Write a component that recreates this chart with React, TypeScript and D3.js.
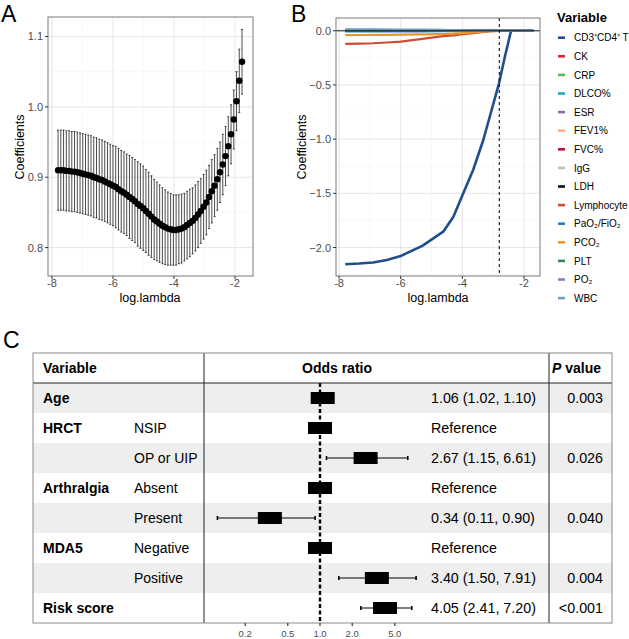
import React from "react";
import * as d3 from "d3";

// ---- panel A: cross-validation curve ----
const lambdaA = [
  -7.8, -7.71, -7.62, -7.53, -7.44, -7.35, -7.26, -7.17, -7.08, -6.99,
  -6.9, -6.81, -6.72, -6.63, -6.54, -6.45, -6.36, -6.27, -6.18, -6.09,
  -6.0, -5.91, -5.82, -5.73, -5.64, -5.55, -5.46, -5.37, -5.28, -5.19,
  -5.1, -5.01, -4.92, -4.83, -4.74, -4.65, -4.56, -4.47, -4.38, -4.29,
  -4.2, -4.11, -4.02, -3.93, -3.84, -3.75, -3.66, -3.57, -3.48, -3.39,
  -3.3, -3.21, -3.12, -3.03, -2.94, -2.85, -2.76, -2.67, -2.58, -2.49,
  -2.4, -2.31, -2.22, -2.13, -2.04, -1.95, -1.86, -1.77,
];
const cvMean = [
  0.91, 0.91, 0.91, 0.909, 0.909, 0.908, 0.908, 0.907, 0.906, 0.905,
  0.904, 0.903, 0.902, 0.9, 0.899, 0.897, 0.896, 0.894, 0.892, 0.89,
  0.888, 0.886, 0.883, 0.88, 0.878, 0.875, 0.872, 0.869, 0.866, 0.862,
  0.859, 0.856, 0.852, 0.848, 0.844, 0.84, 0.837, 0.834, 0.831, 0.829,
  0.827, 0.826, 0.825, 0.825, 0.826, 0.827, 0.829, 0.832, 0.835, 0.838,
  0.842, 0.847, 0.852, 0.858, 0.864, 0.872, 0.88, 0.888, 0.897, 0.907,
  0.918, 0.93, 0.944, 0.961, 0.982, 1.008, 1.037, 1.064,
];
const cvSe = [
  0.057, 0.057, 0.057, 0.057, 0.057, 0.057, 0.057, 0.057, 0.057, 0.057,
  0.057, 0.057, 0.057, 0.057, 0.057, 0.057, 0.057, 0.057, 0.057, 0.057,
  0.057, 0.058, 0.058, 0.058, 0.058, 0.058, 0.059, 0.059, 0.059, 0.06,
  0.06, 0.06, 0.059, 0.059, 0.058, 0.057, 0.056, 0.055, 0.054, 0.053,
  0.052, 0.051, 0.05, 0.05, 0.049, 0.049, 0.048, 0.048, 0.048, 0.047,
  0.047, 0.047, 0.046, 0.046, 0.046, 0.045, 0.045, 0.044, 0.044, 0.043,
  0.043, 0.042, 0.042, 0.042, 0.042, 0.042, 0.045, 0.046,
];
const lambdaTicks = [-8, -6, -4, -2];
const lambdaMinor = [-7, -5, -3];
const yTicksA = [0.8, 0.9, 1.0, 1.1];
const yMinorA = [0.85, 0.95, 1.05];

// ---- panel B: coefficient paths ----
const lambdaB = [-7.8, -7.35, -6.9, -6.45, -6.0, -5.3, -4.62, -4.29, -3.97, -3.65, -3.32, -3.05, -2.81, -2.62, -2.42, -2.2, -1.9, -1.7];
const coefCD3 = [-2.154, -2.148, -2.139, -2.115, -2.078, -1.985, -1.854, -1.716, -1.5, -1.285, -1.008, -0.731, -0.485, -0.239, 0, 0, 0, 0];
const coefZero = [0, 0, 0, 0, 0, 0, 0, 0, 0, 0, 0, 0, 0, 0, 0, 0, 0, 0];
const coefLymph = [-0.12, -0.118, -0.115, -0.108, -0.1, -0.075, -0.05, -0.042, -0.032, -0.022, -0.01, -0.003, 0, 0, 0, 0, 0, 0];
const coefPaO2 = [-0.006, -0.006, -0.006, -0.005, -0.005, -0.005, -0.004, -0.004, -0.003, -0.002, -0.002, -0.002, -0.002, -0.002, -0.001, -0.001, 0, 0];
const coefPCO2 = [-0.04, -0.039, -0.038, -0.037, -0.036, -0.033, -0.03, -0.027, -0.022, -0.016, -0.008, -0.003, 0, 0, 0, 0, 0, 0];
const coefPLT = [0, 0, 0, 0, 0, 0, 0.003, 0.003, 0.002, 0.002, 0.002, 0.001, 0.001, 0, 0, 0, 0, 0];
const coefPO2 = [0.008, 0.008, 0.008, 0.008, 0.007, 0.006, 0.004, 0.002, 0, 0, 0, 0, 0, 0, 0, 0, 0, 0];
const coefIgG = [0.005, 0.005, 0.005, 0.005, 0.005, 0.004, 0.003, 0.001, 0, 0, 0, 0, 0, 0, 0, 0, 0, 0];
const coefWBC = [0.013, 0.013, 0.013, 0.012, 0.012, 0.011, 0.008, 0.004, 0.001, 0, 0, 0, 0, 0, 0, 0, 0, 0];

const variableNames = [
  "CD3⁺CD4⁺ T", "CK", "CRP", "DLCO%", "ESR", "FEV1%", "FVC%", "IgG",
  "LDH", "Lymphocyte", "PaO₂/FiO₂", "PCO₂", "PLT", "PO₂", "WBC",
];
const variableColors = [
  "#1f4e8c", "#e3262a", "#5cb85c", "#21a9b8", "#8c6bb1", "#f7b38e", "#b0173f", "#bdbdbd",
  "#111111", "#cf4b32", "#2d7fc1", "#e8962e", "#2e8b57", "#8a7fbf", "#6f9fbd",
];
const variablePaths = [
  coefCD3, coefZero, coefZero, coefZero, coefZero, coefZero, coefZero, coefIgG,
  coefZero, coefLymph, coefPaO2, coefPCO2, coefPLT, coefPO2, coefWBC,
];
const yTicksB = [0, -0.5, -1.0, -1.5, -2.0];
const yMinorB = [-0.25, -0.75, -1.25, -1.75, -2.25];
const cutoffLambda = -2.8;

// ---- panel C: forest table ----
const forestVars = ["Age", "HRCT", "", "Arthralgia", "", "MDA5", "", "Risk score"];
const forestLevels = ["", "NSIP", "OP or UIP", "Absent", "Present", "Negative", "Positive", ""];
const orEst = [1.06, 1, 2.67, 1, 0.34, 1, 3.4, 4.05];
const orLow = [1.02, null, 1.15, null, 0.11, null, 1.5, 2.41];
const orHigh = [1.1, null, 6.61, null, 0.9, null, 7.91, 7.2];
const orText = [
  "1.06 (1.02, 1.10)", "Reference", "2.67 (1.15, 6.61)", "Reference",
  "0.34 (0.11, 0.90)", "Reference", "3.40 (1.50, 7.91)", "4.05 (2.41, 7.20)",
];
const pText = ["0.003", "", "0.026", "", "0.040", "", "0.004", "<0.001"];
const orTicks = [0.2, 0.5, 1, 2, 5];

const FONT = "Liberation Sans, Arial, sans-serif";
const GRID = "#e6e6e6";
const GRID_MINOR = "#f3f3f3";
const BORDER = "#7a7a7a";
const TICK_TEXT = "#4d4d4d";

const fmt1 = d3.format(".1f");

function PanelA() {
  const x = d3.scaleLinear().domain([-8.13, -1.41]).range([48, 253]);
  const y = d3.scaleLinear().domain([0.7596, 1.1277]).range([276, 17]);
  return (
    <g>
      <text x={1} y={22} fontSize={23} fontFamily={FONT}>A</text>
      {lambdaMinor.map((t) => (
        <line key={"xm" + t} x1={x(t)} x2={x(t)} y1={17} y2={276} stroke={GRID_MINOR} strokeWidth={0.6} />
      ))}
      {yMinorA.map((t) => (
        <line key={"ym" + t} x1={48} x2={253} y1={y(t)} y2={y(t)} stroke={GRID_MINOR} strokeWidth={0.6} />
      ))}
      {lambdaTicks.map((t) => (
        <line key={"x" + t} x1={x(t)} x2={x(t)} y1={17} y2={276} stroke={GRID} strokeWidth={1} />
      ))}
      {yTicksA.map((t) => (
        <line key={"y" + t} x1={48} x2={253} y1={y(t)} y2={y(t)} stroke={GRID} strokeWidth={1} />
      ))}
      {lambdaA.map((l, i) => (
        <g key={"e" + i}>
          <line x1={x(l)} x2={x(l)} y1={y(cvMean[i] - cvSe[i])} y2={y(cvMean[i] + cvSe[i])} stroke="#000" strokeWidth={0.7} />
          <line x1={x(l) - 1} x2={x(l) + 1} y1={y(cvMean[i] - cvSe[i])} y2={y(cvMean[i] - cvSe[i])} stroke="#000" strokeWidth={0.7} />
          <line x1={x(l) - 1} x2={x(l) + 1} y1={y(cvMean[i] + cvSe[i])} y2={y(cvMean[i] + cvSe[i])} stroke="#000" strokeWidth={0.7} />
        </g>
      ))}
      {lambdaA.map((l, i) => (
        <circle key={"p" + i} cx={x(l)} cy={y(cvMean[i])} r={3.2} fill="#000" />
      ))}
      <rect x={48} y={17} width={205} height={259} fill="none" stroke={BORDER} strokeWidth={1} />
      {lambdaTicks.map((t) => (
        <g key={"tx" + t}>
          <line x1={x(t)} x2={x(t)} y1={276} y2={279} stroke="#333" />
          <text x={x(t)} y={287} fontSize={11} textAnchor="middle" fill={TICK_TEXT} fontFamily={FONT}>{t}</text>
        </g>
      ))}
      {yTicksA.map((t) => (
        <g key={"ty" + t}>
          <line x1={45} x2={48} y1={y(t)} y2={y(t)} stroke="#333" />
          <text x={43} y={y(t) + 4} fontSize={11} textAnchor="end" fill={TICK_TEXT} fontFamily={FONT}>{fmt1(t)}</text>
        </g>
      ))}
      <text x={150} y={302} fontSize={12.5} textAnchor="middle" fontFamily={FONT}>log.lambda</text>
      <text transform={`translate(24,147) rotate(-90)`} fontSize={12.5} textAnchor="middle" fontFamily={FONT}>Coefficients</text>
    </g>
  );
}

function PanelB() {
  const x = d3.scaleLinear().domain([-8.1, -1.48]).range([336, 540]);
  const y = d3.scaleLinear().domain([-2.263, 0.118]).range([276, 18]);
  const line = d3
    .line<number>()
    .x((_, i) => x(lambdaB[i]))
    .y((d) => y(d));
  return (
    <g>
      <text x={291} y={22} fontSize={23} fontFamily={FONT}>B</text>
      {lambdaMinor.map((t) => (
        <line key={"xm" + t} x1={x(t)} x2={x(t)} y1={18} y2={276} stroke={GRID_MINOR} strokeWidth={0.6} />
      ))}
      {yMinorB.map((t) => (
        <line key={"ym" + t} x1={336} x2={540} y1={y(t)} y2={y(t)} stroke={GRID_MINOR} strokeWidth={0.6} />
      ))}
      {lambdaTicks.map((t) => (
        <line key={"x" + t} x1={x(t)} x2={x(t)} y1={18} y2={276} stroke={GRID} strokeWidth={1} />
      ))}
      {yTicksB.map((t) => (
        <line key={"y" + t} x1={336} x2={540} y1={y(t)} y2={y(t)} stroke={GRID} strokeWidth={1} />
      ))}
      {variablePaths.map((vals, i) => (
        <path key={"l" + i} d={line(vals) || ""} fill="none" stroke={variableColors[i]}
          strokeWidth={i === 0 ? 2.6 : 2.2} strokeLinejoin="round" />
      ))}
      <line x1={336} x2={540} y1={y(0)} y2={y(0)} stroke="#000" strokeWidth={0.9} />
      <line x1={x(cutoffLambda)} x2={x(cutoffLambda)} y1={18} y2={276} stroke="#111" strokeWidth={1.1} strokeDasharray="3,3" />
      <rect x={336} y={18} width={204} height={258} fill="none" stroke={BORDER} strokeWidth={1} />
      {lambdaTicks.map((t) => (
        <g key={"tx" + t}>
          <line x1={x(t)} x2={x(t)} y1={276} y2={279} stroke="#333" />
          <text x={x(t)} y={287} fontSize={11} textAnchor="middle" fill={TICK_TEXT} fontFamily={FONT}>{t}</text>
        </g>
      ))}
      {yTicksB.map((t) => (
        <g key={"ty" + t}>
          <line x1={333} x2={336} y1={y(t)} y2={y(t)} stroke="#333" />
          <text x={331} y={y(t) + 4} fontSize={11} textAnchor="end" fill={TICK_TEXT} fontFamily={FONT}>{fmt1(t)}</text>
        </g>
      ))}
      <text x={438} y={302} fontSize={12.5} textAnchor="middle" fontFamily={FONT}>log.lambda</text>
      <text transform={`translate(306,147) rotate(-90)`} fontSize={12.5} textAnchor="middle" fontFamily={FONT}>Coefficients</text>
      <text x={557} y={22} fontSize={13} fontWeight="bold" fontFamily={FONT}>Variable</text>
      {variableNames.map((name, i) => {
        const cy = 37.7 + i * 18.6;
        return (
          <g key={"lg" + i}>
            <line x1={558} x2={565} y1={cy} y2={cy} stroke={variableColors[i]} strokeWidth={2.6} />
            <text x={574} y={cy + 3.6} fontSize={10} fontFamily={FONT}>{name}</text>
          </g>
        );
      })}
    </g>
  );
}

function PanelC() {
  const left = 33, right = 612, top = 353, headerH = 30, rowH = 30;
  const sep1 = 204, sep2 = 549;
  const bottom = top + headerH + rowH * forestVars.length;
  const x = d3.scaleLog().domain([0.1, 10]).range([213, 427]);
  const rowY = (i: number) => top + headerH + rowH * i;
  return (
    <g fontFamily={FONT}>
      <text x={3} y={348} fontSize={23}>C</text>
      {forestVars.map((_, i) =>
        i % 2 === 0 ? (
          <rect key={"bg" + i} x={left} y={rowY(i)} width={right - left} height={rowH} fill="#eeeeee" />
        ) : null
      )}
      <text x={43} y={top + 20} fontSize={14} fontWeight="bold">Variable</text>
      <text x={302} y={top + 20} fontSize={14} fontWeight="bold">Odds ratio</text>
      <text x={552} y={top + 20} fontSize={14} fontWeight="bold">
        <tspan fontStyle="italic">P</tspan> value
      </text>
      <line x1={x(1)} x2={x(1)} y1={top + headerH} y2={bottom} stroke="#000" strokeWidth={2.4} strokeDasharray="4,2.5" />
      {forestVars.map((v, i) => {
        const cy = rowY(i) + rowH / 2;
        const lo = orLow[i];
        const hi = orHigh[i];
        return (
          <g key={"r" + i}>
            <text x={43} y={cy + 5} fontSize={14} fontWeight="bold">{v}</text>
            <text x={134} y={cy + 5} fontSize={14}>{forestLevels[i]}</text>
            {lo !== null && hi !== null ? (
              <g stroke="#000" strokeWidth={1}>
                <line x1={x(lo)} x2={x(hi)} y1={cy} y2={cy} />
                <line x1={x(lo)} x2={x(lo)} y1={cy - 2} y2={cy + 2} strokeWidth={1.6} />
                <line x1={x(hi)} x2={x(hi)} y1={cy - 2} y2={cy + 2} strokeWidth={1.6} />
              </g>
            ) : null}
            <rect x={x(orEst[i]) - 12} y={cy - 6} width={24} height={12} fill="#000" />
            <text x={431} y={cy + 5} fontSize={14.3}>{orText[i]}</text>
            <text x={603} y={cy + 5} fontSize={14.3} textAnchor="end">{pText[i]}</text>
          </g>
        );
      })}
      <line x1={left} x2={right} y1={top + headerH} y2={top + headerH} stroke="#222" strokeWidth={1} />
      <line x1={sep1} x2={sep1} y1={top} y2={bottom} stroke="#222" strokeWidth={1} />
      <line x1={sep2} x2={sep2} y1={top} y2={bottom} stroke="#222" strokeWidth={1} />
      <rect x={left} y={top} width={right - left} height={bottom - top} fill="none" stroke="#8a8a8a" strokeWidth={1} />
      {orTicks.map((t) => (
        <g key={"ot" + t}>
          <line x1={x(t)} x2={x(t)} y1={bottom} y2={bottom + 3} stroke="#333" strokeWidth={1.2} />
          <text x={x(t)} y={637} fontSize={9.5} textAnchor="middle" fill={TICK_TEXT}>{fmt1(t)}</text>
        </g>
      ))}
    </g>
  );
}

export default function App() {
  return (
    <svg width={629} height={639} style={{ position: "absolute", left: 0, top: 0, background: "#fff" }}>
      <rect width={629} height={639} fill="#fff" />
      <PanelA />
      <PanelB />
      <PanelC />
    </svg>
  );
}
